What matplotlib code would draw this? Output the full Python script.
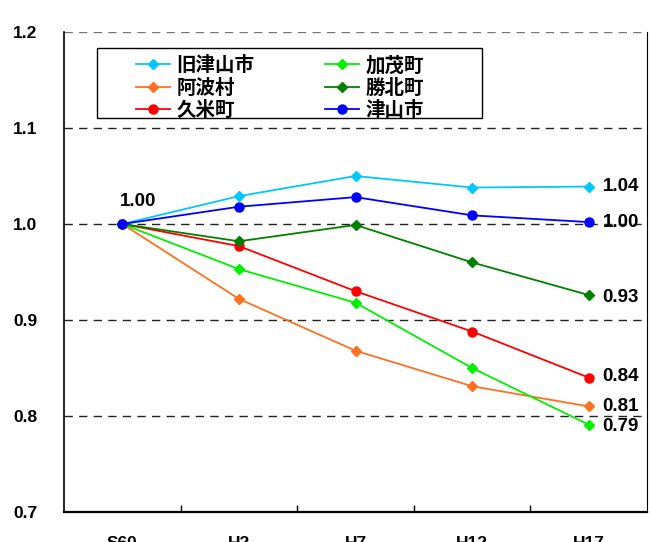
import matplotlib
matplotlib.use("Agg")
import matplotlib.pyplot as plt
from matplotlib.patches import Rectangle

years = ["S60", "H2", "H7", "H12", "H17"]
series_names = ["旧津山市", "阿波村", "久米町", "加茂町", "勝北町", "津山市"]
kyu_tsuyama = [1.000, 1.029, 1.050, 1.038, 1.039]
aba = [1.000, 0.922, 0.868, 0.831, 0.810]
kume = [1.000, 0.977, 0.930, 0.888, 0.840]
kamo = [1.000, 0.953, 0.918, 0.850, 0.791]
shoboku = [1.000, 0.982, 0.999, 0.960, 0.926]
tsuyama = [1.000, 1.018, 1.028, 1.009, 1.002]
yticks = [0.7, 0.8, 0.9, 1.0, 1.1, 1.2]

values = [kyu_tsuyama, aba, kume, kamo, shoboku, tsuyama]
colors = ["#00C8FF", "#FF7020", "#FF0000", "#00F000", "#008000", "#0000FF"]
markers = ["D", "D", "o", "D", "D", "o"]
msizes = [5.5, 5.5, 6.5, 5.5, 5.5, 6.5]

NUM = ["Liberation Sans", "DejaVu Sans"]
CJK = ["Noto Sans CJK JP", "DejaVu Sans"]

W, H = 650, 542
fig = plt.figure(figsize=(W / 100, H / 100), dpi=100)
L, R, T, B = 64, 647, 32, 512
ax = fig.add_axes([L / W, (H - B) / H, (R - L) / W, (B - T) / H])

x = list(range(len(years)))
for name, v, c, m, ms in zip(series_names, values, colors, markers, msizes):
    ax.plot(x, v, color=c, lw=1.3, marker=m, ms=ms, mec=c, mfc=c, label=name, zorder=3)

ax.set_xlim(-0.5, len(years) - 0.5)
ax.set_ylim(0.7, 1.2)
ax.set_yticks(yticks)
ax.set_yticklabels([f"{t:.1f}" for t in yticks], fontfamily=NUM, fontweight="bold", fontsize=12.5)
ax.set_xticks(x)
ax.set_xticklabels(years, fontfamily=NUM, fontweight="bold", fontsize=12.5)
ax.set_xticks([i + 0.5 for i in range(len(years) - 1)], minor=True)
ax.tick_params(axis="x", which="major", length=0, pad=17)
ax.tick_params(axis="x", which="minor", length=5, direction="in", width=1, color="black")
ax.tick_params(axis="y", length=0, pad=19)

for yv in yticks[1:]:
    ax.axhline(yv, color="#222222" if yv < 1.15 else "#777777", lw=1.0, dashes=(6, 4.5), zorder=1)

ax.spines["top"].set_visible(False)
ax.spines["left"].set_linewidth(1.2)
ax.spines["bottom"].set_linewidth(1.6)
ax.spines["right"].set_linewidth(0.8)
for s in ax.spines.values():
    s.set_color("black")

# value labels
ax.annotate(f"{values[0][0]:.2f}", (0, values[0][0]), xytext=(11, 16), textcoords="offset points",
            ha="center", va="center", fontfamily=NUM, fontweight="bold", fontsize=13.5)
end_offsets = [0, 0, 1, -1, -2, 0]
for v, dy in zip(values, end_offsets):
    ax.annotate(f"{v[-1]:.2f}", (len(years) - 1, v[-1]), xytext=(10, dy), textcoords="offset points",
                ha="left", va="center", fontfamily=NUM, fontweight="bold", fontsize=13.5, zorder=4)

# legend
fig.patches.append(Rectangle((97 / W, 1 - 118 / H), (482 - 97) / W, (118 - 48) / H,
                             transform=fig.transFigure, fill=False, ec="black", lw=1.0, zorder=5))
leg = ax.legend(ncol=2, loc="upper left", bbox_to_anchor=(126 / W, 1 - 46 / H),
                bbox_transform=fig.transFigure, frameon=False, borderpad=0,
                prop={"family": CJK, "weight": "bold", "size": 14},
                handlelength=1.75, handletextpad=0.35, columnspacing=3.6, labelspacing=0.18)

fig.savefig("out.png", dpi=100)
